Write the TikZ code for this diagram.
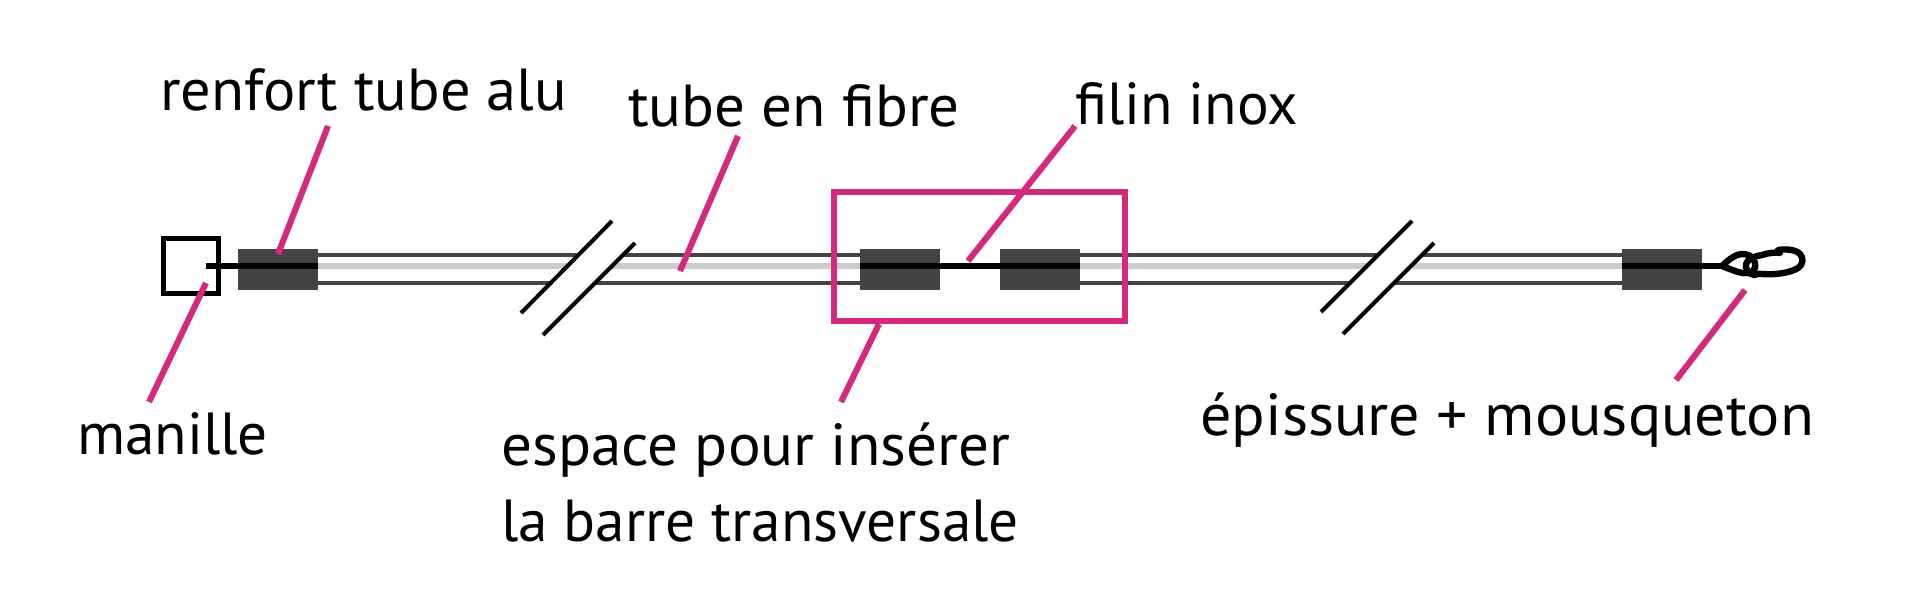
\documentclass[tikz,border=0pt]{standalone}
\usepackage{fontspec}
\setmainfont{PT Sans}
\definecolor{pinkline}{HTML}{D42A7C}
\definecolor{sleevecol}{HTML}{434343}
\definecolor{coregrey}{HTML}{CCCCCC}
\tikzset{
  label text/.style={inner sep=0pt,anchor=base west,font=\fontsize{44.5}{50}\selectfont,text=black},
  leader/.style={draw=pinkline,line width=4.6pt},
  sleeve/.style={fill=sleevecol,draw=none,minimum width=60pt,minimum height=30.75pt,inner sep=0pt},
  tubeline/.style={draw=sleevecol,line width=3.3pt},
  corewire/.style={draw=coregrey,line width=4.4pt},
  cable/.style={draw=black,line width=4.6pt},
  breakline/.style={draw=black,line width=3pt},
  hook/.style={draw=black,line width=4.8pt,line join=round}
}
\begin{document}
\begin{tikzpicture}[x=0.75pt,y=-0.75pt]
\useasboundingbox (0,0) rectangle (1920,610);
% sleeves
\node[sleeve] (s1) at (278,269.5) {};
\node[sleeve] (s2) at (900,269.5) {};
\node[sleeve] (s3) at (1039.5,269.5) {};
\node[sleeve] (s4) at (1662,269.5) {};
% tubes
\foreach \u/\v in {s1/s2,s3/s4}{
  \draw[corewire] (\u.east |- 0,266) -- (\v.west |- 0,266);
  \draw[tubeline] (\u.east |- 0,255) -- (\v.west |- 0,255);
  \draw[tubeline] (\u.east |- 0,283) -- (\v.west |- 0,283);
}
% breaks
\coordinate (a1) at (521,313); \coordinate (a2) at (612,221);
\coordinate (b1) at (543,335); \coordinate (b2) at (635,243);
\coordinate (c1) at (1321,312); \coordinate (c2) at (1412,221);
\coordinate (d1) at (1343,334); \coordinate (d2) at (1434,243);
\fill[white] (a1) -- (a2) -- (b2) -- (b1) -- cycle;
\fill[white] (c1) -- (c2) -- (d2) -- (d1) -- cycle;
\draw[breakline] (a1) -- (a2);
\draw[breakline] (b1) -- (b2);
\draw[breakline] (c1) -- (c2);
\draw[breakline] (d1) -- (d2);
% shackle
\node[draw=black,line width=4.4pt,minimum width=41.25pt,minimum height=41.25pt,inner sep=0pt] (manille) at (191,266) {};
% cable
\coordinate (c0) at (206,266);
\coordinate (c3) at (1722,266);
\draw[cable] (c0) -- (s1.east |- c0);
\draw[cable] (s2.west |- c0) -- (s3.east |- c0);
\draw[cable] (s4.west |- c0) -- (c3);
% eye splice and carabiner
\draw[hook] (c3) .. controls (1730,258) and (1737,254) .. (1742,254) .. controls (1752,254) and (1756,260) .. (1755,268) .. controls (1753,274) and (1745,274) .. (1738,272) .. controls (1732,270) and (1727,268) .. (c3) -- cycle;
\draw[hook] (1778,250) .. controls (1785,249) and (1795,249) .. (1800,254) .. controls (1804,258) and (1803,265) .. (1798,268) .. controls (1790,273) and (1775,275) .. (1762,274) .. controls (1758,273) and (1757,275) .. (1754,275) .. controls (1748,274) and (1745,268) .. (1746,264) .. controls (1747,259) and (1755,256) .. (1762,255) .. controls (1768,253) and (1775,252) .. (1780,253) -- cycle;
% frame
\node[draw=pinkline,line width=4.4pt,minimum width=218.75pt,minimum height=97.25pt,inner sep=0pt] (frame) at (979.5,256.5) {};
% labels
\node[label text] (t1) at (160,110) {\scalebox{1.018}[1]{renfort tube alu}};
\node[label text] (t2) at (628,127) {\scalebox{1.027}[1]{tube en fibre}};
\node[label text] (t3) at (1075,124) {filin inox};
\node[label text] (t4) at (77,454) {manille};
\node[label text] (t5) at (501,465) {\scalebox{1.03}[1]{espace pour insérer}};
\node[label text] (t6) at (501,541) {la barre transversale};
\node[label text] (t7) at (1200,435) {\scalebox{1.046}[1]{épissure + mousqueton}};
% leaders
\coordinate (l1a) at (328,126); \coordinate (l1b) at (278,254);
\coordinate (l2a) at (738,136); \coordinate (l2b) at (680,271);
\coordinate (l3a) at (1075,126); \coordinate (l3b) at (968,261);
\coordinate (l4a) at (149,402); \coordinate (l4b) at (206,283);
\coordinate (l5a) at (879,324); \coordinate (l5b) at (841,402);
\coordinate (l6a) at (1745,290); \coordinate (l6b) at (1676,380);
\draw[leader] (l1a) -- (l1b);
\draw[leader] (l2a) -- (l2b);
\draw[leader] (l3a) -- (l3b);
\draw[leader] (l4a) -- (l4b);
\draw[leader] (l5a) -- (l5b);
\draw[leader] (l6a) -- (l6b);
\end{tikzpicture}
\end{document}
